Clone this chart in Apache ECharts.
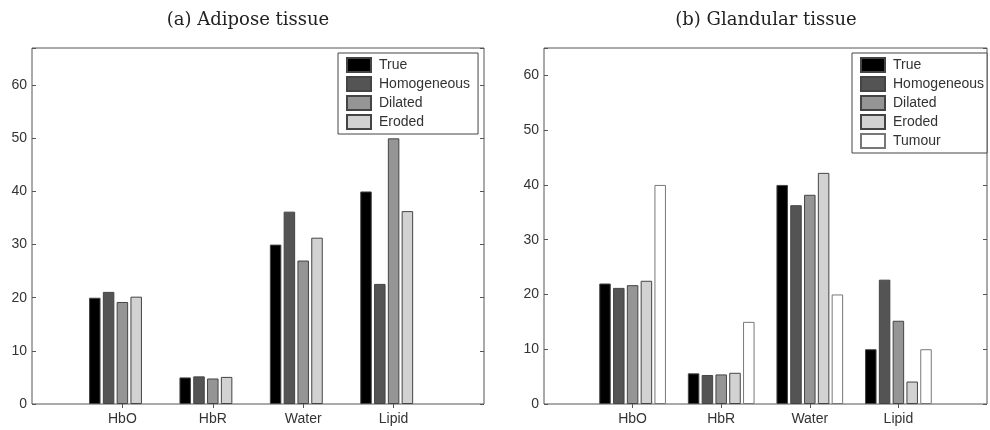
<!DOCTYPE html>
<html>
<head>
<meta charset="utf-8">
<script src="https://cdn.jsdelivr.net/npm/echarts@6/dist/echarts.min.js"></script>
<style>
  html, body { margin: 0; padding: 0; background: #fff; }
  #chart { width: 990px; height: 430px; }
</style>
</head>
<body>
<div id="chart"></div>
<script>
// categories, padded with empty slots at both ends (axis runs 0..5)
var categories = ['', 'HbO', 'HbR', 'Water', 'Lipid', '']
var seriesNames = ['True', 'Homogeneous', 'Dilated', 'Eroded', 'Tumour']
var barColors = ['#000000', '#545454', '#959595', '#d2d2d2', '#ffffff']

// (a) Adipose tissue
var adiposeTrue = [null, 20, 5, 30, 40, null]
var adiposeHomogeneous = [null, 21.1, 5.2, 36.2, 22.6, null]
var adiposeDilated = [null, 19.2, 4.8, 27.0, 50, null]
var adiposeEroded = [null, 20.2, 5.1, 31.3, 36.3, null]
var adiposeTumour = [null, null, null, null, null, null]

// (b) Glandular tissue
var glandTrue = [null, 22, 5.6, 40, 10, null]
var glandHomogeneous = [null, 21.2, 5.3, 36.3, 22.7, null]
var glandDilated = [null, 21.7, 5.4, 38.2, 15.2, null]
var glandEroded = [null, 22.5, 5.7, 42.2, 4.1, null]
var glandTumour = [null, 40, 15, 20, 10, null]

var yTicks = [0, 10, 20, 30, 40, 50, 60]

var adiposeData = [adiposeTrue, adiposeHomogeneous, adiposeDilated, adiposeEroded, adiposeTumour]
var glandData = [glandTrue, glandHomogeneous, glandDilated, glandEroded, glandTumour]

var font = 'Liberation Sans'
var txt = '#333'
var line = '#555'

function bottomAxis (grid) {
  return {
    type: 'category',
    gridIndex: grid,
    data: categories,
    boundaryGap: false,
    axisLine: { show: false },
    axisTick: { inside: true, length: 4, lineStyle: { color: line },
      interval: function (i) { return i > 0 && i < 5 } },
    axisLabel: { color: txt, fontFamily: font, fontSize: 14, margin: 8, interval: 0 }
  }
}
function topAxis (grid) {
  return {
    type: 'category',
    gridIndex: grid,
    position: 'top',
    data: categories,
    boundaryGap: false,
    axisLine: { show: false },
    axisTick: { inside: true, length: 4, lineStyle: { color: line },
      interval: function (i) { return i > 0 && i < 5 } },
    axisLabel: { show: false }
  }
}
function valueAxis (grid, max, pos) {
  return {
    type: 'value',
    gridIndex: grid,
    position: pos,
    min: 0,
    max: max,
    interval: 10,
    splitLine: { show: false },
    axisLine: { show: false },
    axisTick: { show: true, inside: true, length: 4, lineStyle: { color: line } },
    axisLabel: {
      show: pos === 'left',
      color: txt, fontFamily: font, fontSize: 14, margin: 5,
      formatter: function (v) { return yTicks.indexOf(v) >= 0 ? String(v) : '' }
    }
  }
}

var series = []
function addSeries (data, xi, yi) {
  data.forEach(function (d, k) {
    series.push({
      name: seriesNames[k],
      type: 'bar',
      xAxisIndex: xi,
      yAxisIndex: yi,
      data: d,
      barWidth: 11.5,
      barGap: '20%',
      itemStyle: { color: barColors[k], borderColor: k === 4 ? '#777' : '#444', borderWidth: 1 },
      emphasis: { disabled: true }
    })
  })
}
addSeries(adiposeData, 0, 0)
addSeries(glandData, 2, 2)

function legend (names, left, padRight) {
  return {
    data: names,
    orient: 'vertical',
    left: left,
    top: 53,
    icon: 'rect',
    itemWidth: 24,
    itemHeight: 14,
    itemGap: 3,
    padding: [4, padRight, 4, 8],
    borderColor: '#444',
    borderWidth: 1,
    borderRadius: 0,
    backgroundColor: '#fff',
    selectedMode: false,
    textStyle: { color: txt, fontFamily: font, fontSize: 14, lineHeight: 14, padding: [0, 0, 0, 3] }
  }
}

var myChart = echarts.init(document.getElementById('chart'), null, { renderer: 'canvas' })
var option = {
  animation: false,
  backgroundColor: '#fff',
  grid: [
    { left: 32, top: 48, width: 452, height: 356, show: true, borderColor: line, borderWidth: 1 },
    { left: 544, top: 48, right: -3, height: 356, show: true, borderColor: line, borderWidth: 1 }
  ],
  xAxis: [bottomAxis(0), topAxis(0), bottomAxis(1), topAxis(1)],
  yAxis: [valueAxis(0, 67, 'left'), valueAxis(0, 67, 'right'), valueAxis(1, 65, 'left'), valueAxis(1, 65, 'right')],
  legend: [
    legend(seriesNames.slice(0, 4), 338, 8),
    legend(seriesNames, 852, 3)
  ],
  graphic: [
    { type: 'text', x: 248, y: 20, style: { text: '(a) Adipose tissue', textAlign: 'center', textVerticalAlign: 'middle',
      font: '18px "DejaVu Serif"', fill: '#222' } },
    { type: 'text', x: 766, y: 20, style: { text: '(b) Glandular tissue', textAlign: 'center', textVerticalAlign: 'middle',
      font: '18px "DejaVu Serif"', fill: '#222' } }
  ],
  series: series
}
myChart.setOption(option)
</script>
</body>
</html>
